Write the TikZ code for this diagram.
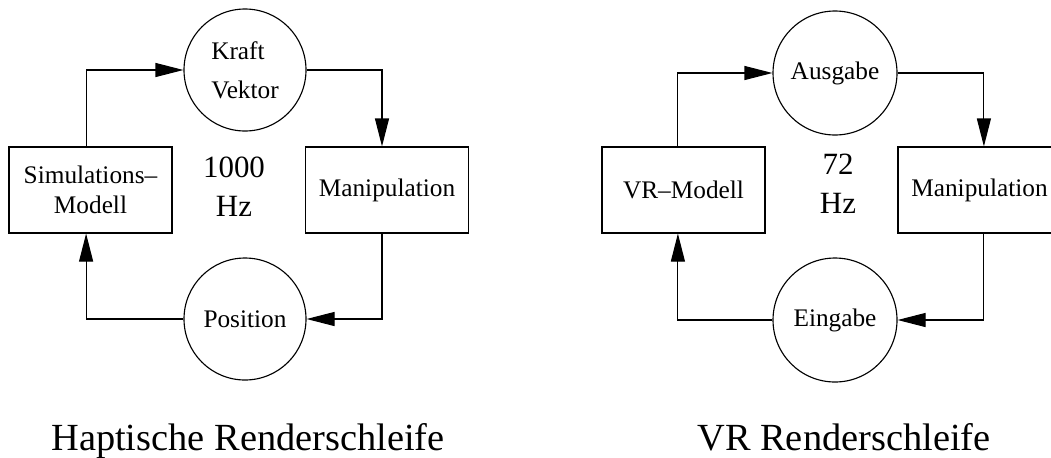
\documentclass[tikz,border=0pt]{standalone}
\usepackage{fontspec}
\setmainfont{Liberation Serif}
\usetikzlibrary{shapes.geometric, arrows.meta}
\tikzstyle{block} = [rectangle, minimum width=4.075cm, minimum height=2.15cm, inner sep=0pt, align=center, draw=black, line width=0.8pt, font=\fontsize{18}{21.5}\selectfont]
\tikzstyle{station} = [circle, minimum size=3.05cm, inner sep=0pt, align=center, draw=black, line width=0.8pt, font=\fontsize{18}{21.5}\selectfont]
\tikzstyle{rate} = [align=center, font=\fontsize{22}{28}\selectfont]
\tikzstyle{caption} = [anchor=base, font=\fontsize{27.3}{32}\selectfont]
\tikzstyle{arrow} = [line width=0.8pt, -{Triangle[length=7mm, width=3.5mm]}]

\begin{document}
\begin{tikzpicture}[node distance=3cm]
    \path[use as bounding box, clip] (0,0) rectangle (26.275,-11.425);

    %haptic loop
    \node (kraft) [station, align=left] at (6.125,-1.75) {Kraft\\[6pt]Vektor};
    \node (sim) [block, below of=kraft, xshift=-3.8625cm] {Simulations--\\Modell};
    \node (manip) [block, below of=kraft, xshift=3.55cm] {Manipulation};
    \node (pos) [station, below of=kraft, node distance=6.225cm] {Position};
    \node (hz) [rate, below of=kraft, node distance=2.925cm, xshift=-0.275cm] {1000\\Hz};
    \node (haptic) [caption] at (6.2,-11.25) {Haptische Renderschleife};

    \draw [arrow] ([xshift=-1.1mm]sim.north) |- (kraft.west);
    \draw [arrow] (kraft.east) -| ([xshift=-1.25mm]manip.north);
    \draw [arrow] ([xshift=-1.25mm]manip.south) |- (pos.east);
    \draw [arrow] (pos.west) -| ([xshift=-1.1mm]sim.south);

    %vr loop
    \node (ausgabe) [station, minimum size=3.1cm] at (20.875,-1.825) {Ausgabe};
    \node (vr) [block, below of=ausgabe, node distance=2.925cm, xshift=-3.7875cm] {VR--Modell};
    \node (manip2) [block, below of=ausgabe, node distance=2.925cm, xshift=3.6125cm] {Manipulation};
    \node (eingabe) [station, minimum size=3.1cm, below of=ausgabe, node distance=6.175cm] {Eingabe};
    \node (hz2) [rate, below of=ausgabe, node distance=2.775cm, xshift=0.075cm] {72\\Hz};
    \node (vrtitle) [caption] at (21.1,-11.25) {VR Renderschleife};

    \draw [arrow] ([xshift=-1.4mm]vr.north) |- (ausgabe.west);
    \draw [arrow] (ausgabe.east) -| ([xshift=1.1mm]manip2.north);
    \draw [arrow] ([xshift=1.1mm]manip2.south) |- (eingabe.east);
    \draw [arrow] (eingabe.west) -| ([xshift=-1.4mm]vr.south);
\end{tikzpicture}
\end{document}
